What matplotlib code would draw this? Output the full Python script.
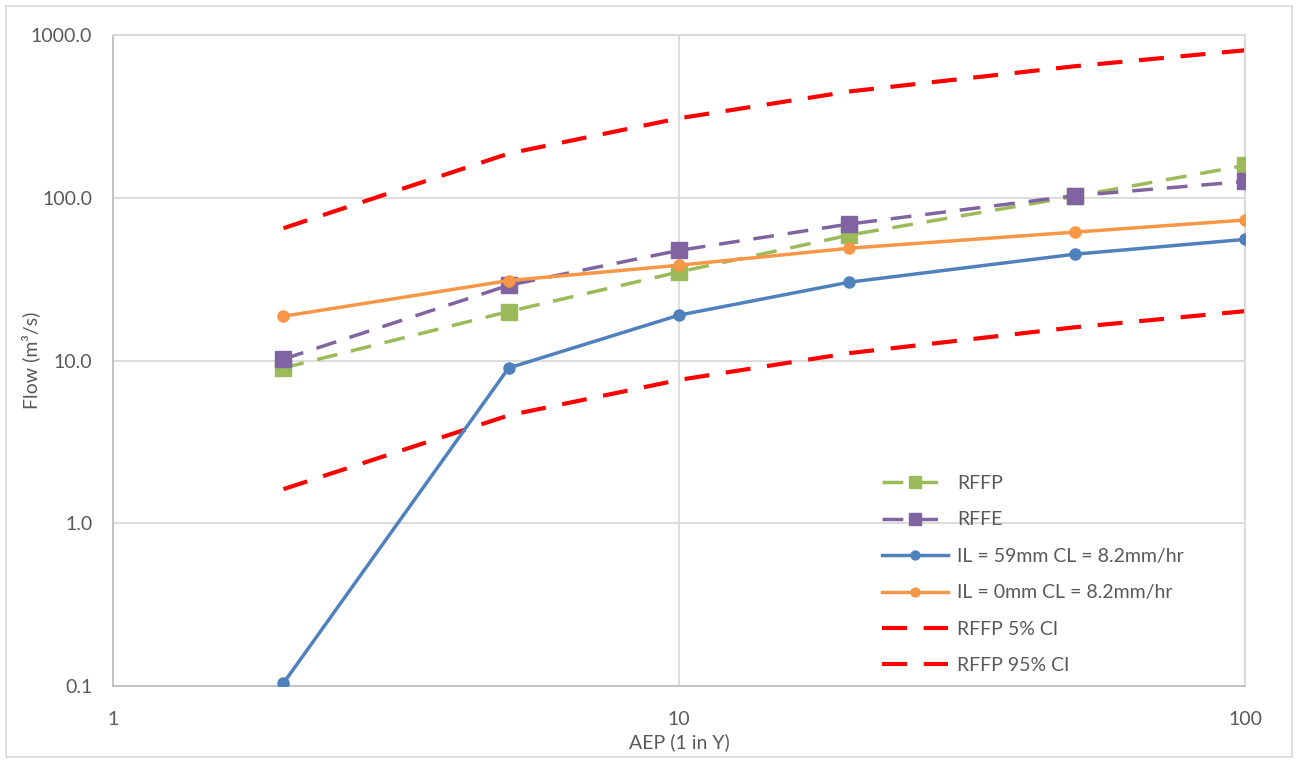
import numpy as np
import matplotlib
matplotlib.use("Agg")
import matplotlib.pyplot as plt
from matplotlib.ticker import FixedLocator, FixedFormatter, NullLocator
from matplotlib.patches import Rectangle

plt.rcParams['font.family'] = ['Lato', 'DejaVu Sans']

# return period (1 in Y)
aep = [2, 5, 10, 20, 50, 100]

rffp = [9.0, 20.0, 35.0, 59.0, 102.0, 158.0]
rffe = [10.2, 29.0, 47.5, 69.0, 103.0, 126.0]
il59 = [0.104, 9.0, 19.0, 30.3, 45.0, 55.5]
il0 = [18.7, 31.0, 38.5, 49.0, 61.5, 73.0]
ci5 = [1.62, 4.6, 7.6, 11.1, 16.0, 20.1]
ci95 = [65.0, 187.0, 308.0, 450.0, 643.0, 806.0]

x_ticks = [1, 10, 100]
x_labels = ['1', '10', '100']
y_ticks = [0.1, 1, 10, 100, 1000]
y_labels = ['0.1', '1.0', '10.0', '100.0', '1000.0']

txt = '#595959'
grid_col = '#d9d9d9'
fs = 14

fig = plt.figure(figsize=(12.98, 7.6), dpi=100)
fig.patches.append(Rectangle((0.005, 0.004), 0.99, 0.988, transform=fig.transFigure,
                             fill=False, edgecolor=grid_col, linewidth=1.2))
ax = fig.add_axes([0.0871, 0.0974, 0.8721, 0.8565])

ax.plot(aep, rffp, color='#9BBB59', linestyle=(0, (6, 4)), linewidth=2.5,
        marker='s', markersize=11, label='RFFP', zorder=3)
ax.plot(aep, rffe, color='#8064A2', linestyle=(0, (6, 4)), linewidth=2.5,
        marker='s', markersize=11, label='RFFE', zorder=3)
ax.plot(aep, il59, color='#4F81BD', linewidth=2.5, marker='o', markersize=8,
        label='IL = 59mm CL = 8.2mm/hr', zorder=4)
ax.plot(aep, il0, color='#F79646', linewidth=2.5, marker='o', markersize=8,
        label='IL = 0mm CL = 8.2mm/hr', zorder=4)
ax.plot(aep, ci5, color='#FF0000', linestyle=(0, (6, 4)), linewidth=3,
        label='RFFP 5% CI', zorder=2)
ax.plot(aep, ci95, color='#FF0000', linestyle=(0, (6, 4)), linewidth=3,
        label='RFFP 95% CI', zorder=2)

ax.set_xscale('log')
ax.set_yscale('log')
ax.set_xlim(1, 100)
ax.set_ylim(0.1, 1000)

ax.xaxis.set_major_locator(FixedLocator(x_ticks))
ax.xaxis.set_major_formatter(FixedFormatter(x_labels))
ax.xaxis.set_minor_locator(NullLocator())
ax.yaxis.set_major_locator(FixedLocator(y_ticks))
ax.yaxis.set_major_formatter(FixedFormatter(y_labels))
ax.yaxis.set_minor_locator(NullLocator())

ax.grid(True, which='major', color=grid_col, linewidth=1.3, zorder=0)
ax.set_axisbelow(True)
for s in ['top', 'right']:
    ax.spines[s].set_color(grid_col)
    ax.spines[s].set_linewidth(1.3)
for s in ['left', 'bottom']:
    ax.spines[s].set_color('#bfbfbf')
    ax.spines[s].set_linewidth(1.3)

ax.tick_params(axis='both', length=0, labelsize=fs, labelcolor=txt)
ax.tick_params(axis='x', pad=18)
ax.tick_params(axis='y', pad=15)

ax.set_xlabel('AEP (1 in Y)', fontsize=fs, color=txt)
ax.xaxis.set_label_coords(0.5, -0.072)
ax.set_ylabel('Flow (m³/s)', fontsize=fs, color=txt)
ax.yaxis.set_label_coords(-0.064, 0.5)

leg = ax.legend(loc='upper left', bbox_to_anchor=(0.672, 0.336), frameon=False,
                fontsize=fs, handlelength=3.4, labelspacing=1.0, borderaxespad=0,
                markerscale=0.8, handletextpad=0.5)
for t in leg.get_texts():
    t.set_color(txt)

fig.savefig('out.png', dpi=100)
